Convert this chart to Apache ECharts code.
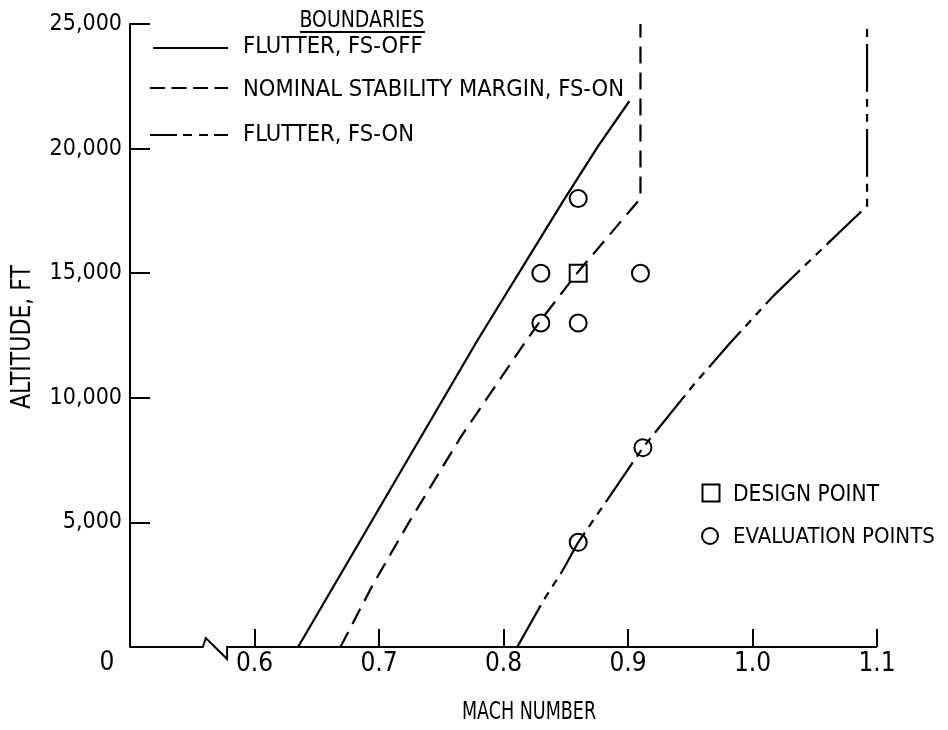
<!DOCTYPE html>
<html><head><meta charset="utf-8">
<script src="https://cdn.jsdelivr.net/npm/echarts@6/dist/echarts.min.js"></script>
<style>html,body{margin:0;padding:0;background:#fff}#c{width:948px;height:730px}</style>
</head><body><div id="c"></div>
<script>
// ---- data (Mach number, altitude ft) ----
const flutterOff = [[0.635,0],[0.779,12300],[0.848,17900],[0.876,20100],[0.901,21900]];
const nominalMargin = [[0.669,0],[0.694,2400],[0.724,5000],[0.766,8450],[0.817,12200],[0.829,13050],[0.859,15000],[0.910,18000],[0.910,25000]];
const flutterOn = [[0.811,0],[0.832,1860],[0.8475,3070],[0.860,4200],[0.912,8000],[0.954,10600],[0.982,12200],[1.017,14100],[1.046,15500],[1.069,16600],[1.092,17700],[1.092,25000]];
const designPoint = [[0.86,15000]];
const evaluationPoints = [[0.86,18000],[0.83,15000],[0.91,15000],[0.83,13000],[0.86,13000],[0.912,8000],[0.86,4200]];
const xMin = 0.5, xMax = 1.1, xStep = 0.1;
const yMin = 0, yMax = 25000, yStep = 5000;
const breakFrom = 0.5585, breakTo = 0.578;
const boundaryNames = ['FLUTTER, FS-OFF','NOMINAL STABILITY MARGIN, FS-ON','FLUTTER, FS-ON'];
const pointNames = ['DESIGN POINT','EVALUATION POINTS'];

const FONT = "'DejaVu Sans Condensed', 'DejaVu Sans', sans-serif";
const DASH = [17, 9];
const DASHDOT = [48, 7, 8, 7, 8, 7];

const chart = echarts.init(document.getElementById('c'), null, {renderer:'canvas'});
chart.setOption({
  animation:false,
  backgroundColor:'#fff',
  grid:{left:130,right:71,top:24,bottom:83},
  xAxis:{type:'value',min:xMin,max:xMax,interval:xStep,
    axisLine:{show:false},
    axisTick:{show:true,inside:true,length:18,lineStyle:{color:'#000',width:2}},
    axisLabel:{color:'#000',fontFamily:FONT,fontSize:26,margin:4,
      formatter:v=> v < 0.55 ? '' : v.toFixed(1)},
    splitLine:{show:false}},
  yAxis:{type:'value',min:yMin,max:yMax,interval:yStep,
    axisLine:{show:true,lineStyle:{color:'#000',width:2}},
    axisTick:{show:true,inside:true,length:20,lineStyle:{color:'#000',width:2}},
    axisLabel:{color:'#000',fontFamily:FONT,fontSize:23,margin:8,
      formatter:v=> v === 0 ? '' : v.toLocaleString('en-US')},
    splitLine:{show:false}},
  series:[
    {name:boundaryNames[0],type:'line',data:flutterOff,symbol:'none',silent:true,
      lineStyle:{color:'#000',width:2.2,type:'solid'}},
    {name:boundaryNames[1],type:'line',data:nominalMargin,symbol:'none',silent:true,
      lineStyle:{color:'#000',width:2.2,type:DASH}},
    {name:boundaryNames[2],type:'line',data:flutterOn,symbol:'none',silent:true,
      lineStyle:{color:'#000',width:2.2,type:DASHDOT}},
    {name:pointNames[0],type:'scatter',data:designPoint,symbol:'rect',symbolSize:17,silent:true,
      itemStyle:{color:'transparent',borderColor:'#000',borderWidth:2,opacity:1}},
    {name:pointNames[1],type:'scatter',data:evaluationPoints,symbol:'circle',symbolSize:17,silent:true,
      itemStyle:{color:'transparent',borderColor:'#000',borderWidth:2,opacity:1}}
  ]
});

const P = (x,y)=>chart.convertToPixel({gridIndex:0},[x,y]);
const [ax0, ay0] = P(xMin, 0);
const [ax1] = P(xMax, 0);
const [b1] = P(breakFrom, 0);
const [b2] = P(breakTo, 0);
const txt = (text, x, y, size, align, extra) => Object.assign({type:'text', x:x, y:y, silent:true,
  style:{text:text, fill:'#000', font: size + 'px ' + FONT, textAlign:align||'left', textVerticalAlign:'middle'}}, extra||{});
const ln = (x1,y1,x2,y2,dash) => ({type:'line', silent:true,
  shape:{x1:x1,y1:y1,x2:x2,y2:y2}, style:{stroke:'#000', lineWidth:2, lineDash:dash||null}});

chart.setOption({graphic:[
  {type:'polyline', silent:true, shape:{points:[[ax0,ay0],[b1,ay0],[b1+3,ay0-9],[b2,ay0+12],[b2,ay0],[ax1,ay0]]},
    style:{stroke:'#000', lineWidth:2, fill:null}},
  txt('0', 107, 663, 26, 'center'),
  txt('ALTITUDE, FT', 23, 337, 24.5, 'center', {rotation:Math.PI/2, scaleY:1.12}),
  txt('MACH NUMBER', 529, 713, 19.5, 'center', {scaleY:1.28}),
  txt('BOUNDARIES', 362, 21.5, 21, 'center', {scaleY:1.1}),
  ln(300, 32, 425, 32),
  ln(153, 48, 228, 48),
  txt(boundaryNames[0], 243, 46.5, 23.5, 'left'),
  ln(150, 88, 228, 88, [15, 6.5]),
  txt(boundaryNames[1], 243, 90, 23.5, 'left'),
  ln(150, 135, 228, 135, [27, 6, 9, 7, 9, 6]),
  txt(boundaryNames[2], 243, 135, 23.5, 'left'),
  {type:'rect', silent:true, shape:{x:702.5, y:484.5, width:17, height:17}, style:{stroke:'#000', lineWidth:2, fill:null}},
  txt(pointNames[0], 733, 495, 22.5, 'left'),
  {type:'circle', silent:true, shape:{cx:710, cy:536, r:8}, style:{stroke:'#000', lineWidth:2, fill:null}},
  txt(pointNames[1], 733, 537, 22, 'left')
]});
</script></body></html>
